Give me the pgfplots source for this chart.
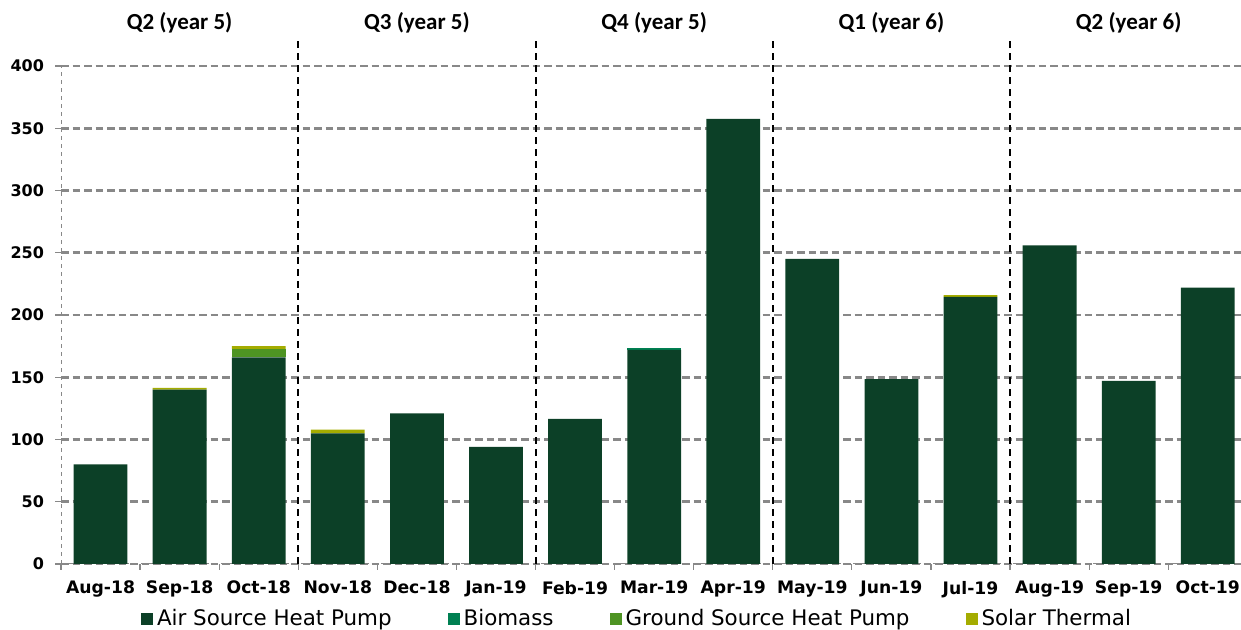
\documentclass[border=0pt]{standalone}
\usepackage{fontspec}
\setmainfont{DejaVu Sans}
\newfontfamily\calib{Carlito}
\usepackage{pgfplots}
\pgfplotsset{compat=1.18}
\definecolor{ashp}{RGB}{12,64,39}
\definecolor{bio}{RGB}{0,128,82}
\definecolor{gshp}{RGB}{78,148,35}
\definecolor{solar}{RGB}{164,172,0}
\definecolor{gridg}{RGB}{136,136,136}
\begin{document}
\begin{tikzpicture}
\useasboundingbox (-30.5pt,-33pt) rectangle (590pt,282pt);
\begin{axis}[
  at={(0,0)}, anchor=south west,
  scale only axis, width=590pt, height=249pt,
  ybar stacked, bar width=0.68,
  xmin=-0.5, xmax=14.42, ymin=0, ymax=400,
  enlargelimits=false, clip=false,
  axis x line*=bottom, axis y line*=left,
  axis line style={gridg, dash pattern=on 2pt off 2pt, line width=0.5pt, -},
  xtick={0,...,14},
  xticklabels={Aug-18,Sep-18,Oct-18,Nov-18,Dec-18,Jan-19,Feb-19,Mar-19,Apr-19,May-19,Jun-19,Jul-19,Aug-19,Sep-19,Oct-19},
  minor xtick={-0.5,0.5,...,14.5},
  x tick style={draw=none},
  minor x tick style={draw=gridg, line width=0.6pt},
  minor tick length=3pt,
  tick align=outside,
  ytick={0,50,...,400},
  y tick style={draw=gridg, line width=0.6pt},
  major tick length=3pt,
  ymajorgrids,
  major grid style={gridg, line width=1.3pt, dash pattern=on 3.75pt off 2pt},
  yticklabel style={font=\bfseries\fontsize{8}{9}\selectfont, xshift=-2pt},
  xticklabel style={font=\bfseries\fontsize{8.6}{10}\selectfont, yshift=-2pt},
  /pgf/number format/assume math mode=true,
  legend columns=4,
  legend style={draw=none, fill=none, at={(0.489,0)}, anchor=center, yshift=-27.5pt,
    font=\fontsize{10.7}{12}\selectfont,
    /tikz/every odd column/.append style={column sep=0pt},
    /tikz/every even column/.append style={column sep=26pt},
    inner sep=0pt},
  legend cell align=left,
]
\addplot[fill=ashp, draw=none, legend image code/.code={\fill[ashp] (0pt,-3pt) rectangle (6pt,3pt);}] coordinates {
(0,80) (1,140) (2,166) (3,105) (4,121) (5,94) (6,116.5) (7,172) (8,357.5) (9,245) (10,148.5) (11,214.5) (12,256) (13,147) (14,222)};
\addlegendentry{Air Source Heat Pump}
\addplot[fill=bio, draw=none, legend image code/.code={\fill[bio] (0pt,-3pt) rectangle (6pt,3pt);}] coordinates {
(0,0) (1,0) (2,0) (3,0) (4,0) (5,0) (6,0) (7,1.5) (8,0) (9,0) (10,0) (11,0) (12,0) (13,0) (14,0)};
\addlegendentry{Biomass}
\addplot[fill=gshp, draw=none, legend image code/.code={\fill[gshp] (0pt,-3pt) rectangle (6pt,3pt);}] coordinates {
(0,0) (1,0) (2,6.5) (3,0) (4,0) (5,0) (6,0) (7,0) (8,0) (9,0) (10,0) (11,0) (12,0) (13,0) (14,0)};
\addlegendentry{Ground Source Heat Pump}
\addplot[fill=solar, draw=none, legend image code/.code={\fill[solar] (0pt,-3pt) rectangle (6pt,3pt);}] coordinates {
(0,0) (1,1.5) (2,2.5) (3,3) (4,0) (5,0) (6,0) (7,0) (8,0) (9,0) (10,0) (11,1.5) (12,0) (13,0) (14,0)};
\addlegendentry{Solar Thermal}
\foreach \s in {2.5,5.5,8.5,11.5}{
  \edef\tmp{\noexpand\draw[black, line width=1pt, dash pattern=on 3.5pt off 2.5pt] (axis cs:\s,0) -- (axis cs:\s,422.5);}
  \tmp
}
\node[font=\calib\bfseries\fontsize{11.5}{13}\selectfont] at (axis cs:1,435) {Q2 (year 5)};
\node[font=\calib\bfseries\fontsize{11.5}{13}\selectfont] at (axis cs:4,435) {Q3 (year 5)};
\node[font=\calib\bfseries\fontsize{11.5}{13}\selectfont] at (axis cs:7,435) {Q4 (year 5)};
\node[font=\calib\bfseries\fontsize{11.5}{13}\selectfont] at (axis cs:10,435) {Q1 (year 6)};
\node[font=\calib\bfseries\fontsize{11.5}{13}\selectfont] at (axis cs:13,435) {Q2 (year 6)};
\end{axis}
\end{tikzpicture}
\end{document}
